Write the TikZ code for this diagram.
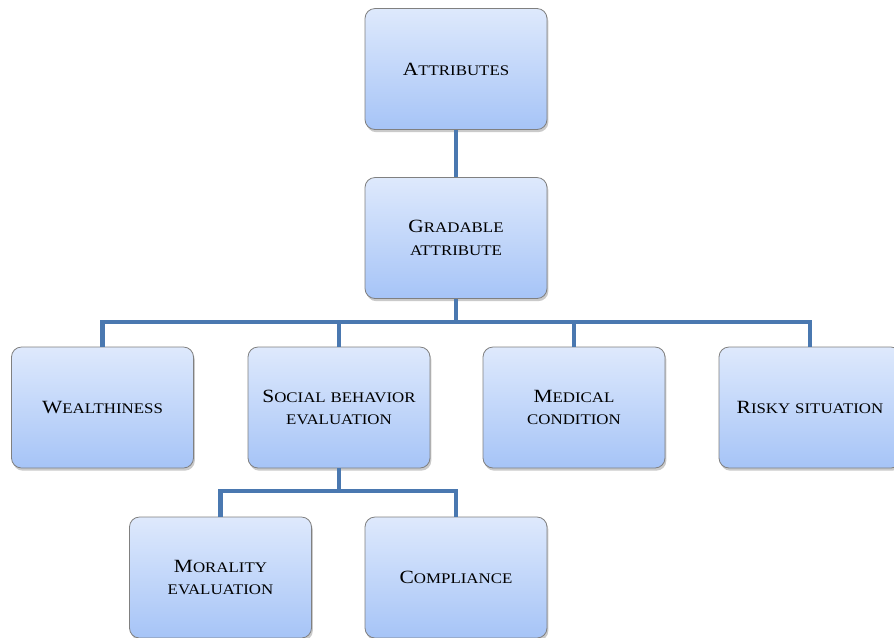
\documentclass[tikz,border=0pt]{standalone}
\usepackage{fontspec}
\setmainfont{Liberation Serif}[FakeStretch=1.15]
\usetikzlibrary{shadows}
\definecolor{conncol}{RGB}{74,120,176}
\definecolor{topblue}{RGB}{222,233,252}
\definecolor{botblue}{RGB}{166,196,247}
\newcommand\fsL[1]{{\fontsize{14}{17}\selectfont #1}}
\newcommand\fsS[1]{{\fontsize{11}{17}\selectfont #1}}
\begin{document}
\begin{tikzpicture}[x=0.75pt,y=-0.75pt,
  catbox/.style={draw=black!50, line width=0.6pt, rounded corners=7.5pt,
    top color=topblue, bottom color=botblue,
    minimum width=136.5pt, minimum height=90.75pt,
    align=center, inner sep=2pt, text width=130pt,
    drop shadow={shadow xshift=1pt, shadow yshift=-2pt, opacity=0.35, fill=black!60},
    font=\fontsize{11}{17}\selectfont},
  conn/.style={draw=conncol, line width=3.6pt}]
\useasboundingbox (0,0) rectangle (894,637);
\node[catbox] (attr) at (456,69) {\fsL{A}\fsS{TTRIBUTES}};
\node[catbox] (grad) at (456,238) {\fsL{G}\fsS{RADABLE}\\\fsS{ATTRIBUTE}};
\node[catbox] (wealth) at (102.5,407.5) {\fsL{W}\fsS{EALTHINESS}};
\node[catbox] (social) at (339,407.5) {\fsL{S}\fsS{OCIAL BEHAVIOR}\\\fsS{EVALUATION}};
\node[catbox] (medical) at (574,407.5) {\fsL{M}\fsS{EDICAL}\\\fsS{CONDITION}};
\node[catbox] (risky) at (810,407.5) {\fsL{R}\fsS{ISKY SITUATION}};
\node[catbox] (moral) at (220.5,577.5) {\fsL{M}\fsS{ORALITY}\\\fsS{EVALUATION}};
\node[catbox] (compl) at (456,577.5) {\fsL{C}\fsS{OMPLIANCE}};
\coordinate (busA) at (0,322);
\coordinate (busB) at (0,491);
\draw[conn] (attr.south) -- (grad.north);
\draw[conn] (grad.south) -- (grad.south |- busA) -| (wealth.north);
\draw[conn] (grad.south |- busA) -| (social.north);
\draw[conn] (grad.south |- busA) -| (medical.north);
\draw[conn] (grad.south |- busA) -| (risky.north);
\draw[conn] (social.south) -- (social.south |- busB) -| (moral.north);
\draw[conn] (social.south |- busB) -| (compl.north);
\end{tikzpicture}
\end{document}
